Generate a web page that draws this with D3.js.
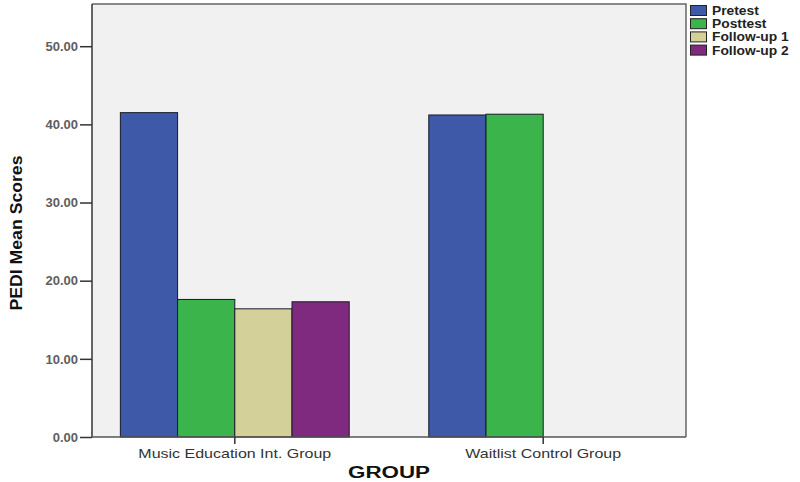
<!DOCTYPE html>
<html>
<head>
<meta charset="utf-8">
<script src="https://cdn.jsdelivr.net/npm/d3@7"></script>
<style>
  html, body { margin: 0; padding: 0; background: #ffffff; }
  svg { display: block; }
</style>
</head>
<body>
<svg id="chart" width="800" height="482"></svg>
<script>
// ---- data ----
const groups = ["Music Education Int. Group", "Waitlist Control Group"];
const seriesNames = ["Pretest", "Posttest", "Follow-up 1", "Follow-up 2"];
const musicValues = [41.5, 17.6, 16.4, 17.3];
const waitlistValues = [41.2, 41.3, null, null];
const yTicks = [0, 10, 20, 30, 40, 50];
const yMax = 55.4;
const seriesColors = ["#3f59a9", "#3bb44b", "#d4d09a", "#7f2a7f"];

const rows = [musicValues, waitlistValues];
const font = "Liberation Sans, Arial, sans-serif";

// ---- layout ----
const svg = d3.select("#chart");
const plot = { left: 92, right: 686, top: 4, bottom: 437 };

const x0 = d3.scaleBand().domain(groups)
  .range([plot.left, plot.right])
  .paddingInner(0.258).paddingOuter(0.092);
const x1 = d3.scaleBand().domain(seriesNames)
  .range([0, x0.bandwidth()]).padding(0);
const y = d3.scaleLinear().domain([0, yMax]).range([plot.bottom, plot.top]);
const color = d3.scaleOrdinal().domain(seriesNames).range(seriesColors);

// plot background
svg.append("rect")
  .attr("x", plot.left).attr("y", plot.top)
  .attr("width", plot.right - plot.left).attr("height", plot.bottom - plot.top)
  .attr("fill", "#f1f1f1");

// bars
const gGroups = svg.append("g").selectAll("g")
  .data(groups).join("g")
  .attr("transform", d => `translate(${x0(d)},0)`);

gGroups.selectAll("rect")
  .data((g, gi) => seriesNames.map((s, si) => ({ s, v: rows[gi][si] })).filter(d => d.v != null))
  .join("rect")
  .attr("x", d => x1(d.s))
  .attr("y", d => y(d.v))
  .attr("width", x1.bandwidth())
  .attr("height", d => y(0) - y(d.v))
  .attr("fill", d => color(d.s))
  .attr("stroke", "#1a1a2a")
  .attr("stroke-width", 1);

// frame: top and right borders
svg.append("path")
  .attr("d", `M${plot.left},${plot.top}H${plot.right}V${plot.bottom}`)
  .attr("fill", "none").attr("stroke", "#666").attr("stroke-width", 1.5);

// y axis
const yAxis = d3.axisLeft(y).tickValues(yTicks).tickFormat(d3.format(".2f")).tickSize(12).tickPadding(2);
const gy = svg.append("g").attr("transform", `translate(${plot.left},0)`).call(yAxis);
gy.select(".domain").attr("stroke", "#333").attr("stroke-width", 1.5)
  .attr("d", `M0,${plot.top}V${plot.bottom}`);
gy.selectAll(".tick line").attr("stroke", "#333").attr("stroke-width", 1.5);
gy.selectAll(".tick text")
  .attr("font-family", font)
  .attr("font-size", 13).attr("font-weight", "bold").attr("fill", "#5e5e5e");

// x axis
const xAxis = d3.axisBottom(x0).tickSize(7).tickPadding(5);
const gx = svg.append("g").attr("transform", `translate(0,${plot.bottom})`).call(xAxis);
gx.select(".domain").attr("stroke", "#555").attr("stroke-width", 1.5)
  .attr("d", `M${plot.left},0H${plot.right}`);
gx.selectAll(".tick line").attr("stroke", "#333").attr("stroke-width", 1.5);
gx.selectAll(".tick text")
  .attr("font-family", font)
  .attr("font-size", 13).attr("fill", "#333")
  .each(function () {
    const w = this.getComputedTextLength();
    d3.select(this).attr("textLength", w * 1.23).attr("lengthAdjust", "spacingAndGlyphs");
  });

// axis titles
svg.append("text")
  .attr("x", (plot.left + plot.right) / 2).attr("y", 478)
  .attr("text-anchor", "middle")
  .attr("font-family", font)
  .attr("font-size", 16).attr("font-weight", "bold").attr("fill", "#111")
  .attr("textLength", 82).attr("lengthAdjust", "spacingAndGlyphs")
  .text("GROUP");

svg.append("text")
  .attr("transform", "translate(22,233) rotate(-90)")
  .attr("text-anchor", "middle")
  .attr("font-family", font)
  .attr("font-size", 16).attr("font-weight", "bold").attr("fill", "#111")
  .attr("textLength", 155).attr("lengthAdjust", "spacingAndGlyphs")
  .text("PEDI Mean Scores");

// legend
const legend = svg.append("g").attr("transform", "translate(690,5)");
const li = legend.selectAll("g").data(seriesNames).join("g")
  .attr("transform", (d, i) => `translate(0,${i * 13.2})`);
li.append("rect").attr("x", 0.5).attr("y", 0.5).attr("width", 16).attr("height", 10)
  .attr("fill", d => color(d)).attr("stroke", "#222").attr("stroke-width", 1);
li.append("text").attr("x", 22).attr("y", 10)
  .attr("font-family", font)
  .attr("font-size", 12).attr("font-weight", "bold").attr("fill", "#222")
  .text(d => d)
  .each(function () {
    const w = this.getComputedTextLength();
    d3.select(this).attr("textLength", w * 1.15).attr("lengthAdjust", "spacingAndGlyphs");
  });
</script>
</body>
</html>
